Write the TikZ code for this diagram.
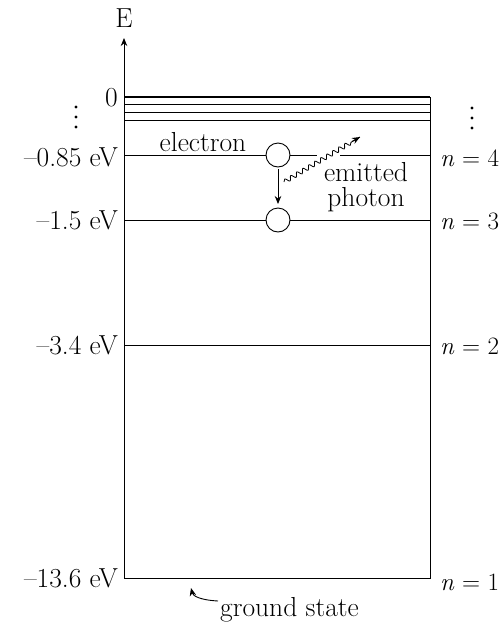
\documentclass[tikz,border=0pt]{standalone}
\usepackage{fontspec}
\setmainfont{Latin Modern Roman}
\usetikzlibrary{arrows.meta,decorations.pathmorphing}
\begin{document}
\begin{tikzpicture}[x=1pt,y=-1pt,
  lbl/.style={font=\fontsize{27.5}{30}\selectfont, inner sep=0pt},
  nlbl/.style={font=\fontsize{25}{28}\selectfont, inner sep=0pt, anchor=west},
  lvl/.style={line width=0.8pt},
  dot/.style={circle, fill=black, inner sep=0pt, minimum size=3.2pt},
  elec/.style={circle, draw, line width=0.9pt, minimum size=24pt, inner sep=0pt, fill=white},
  arr/.style={-{Stealth[length=8pt,width=6.5pt]}, line width=0.9pt}]
\useasboundingbox (0,0) rectangle (501,630);
% axis and box
\coordinate (axtop) at (124,38);
\coordinate (bl) at (124,578);
\coordinate (br) at (430,578);
\coordinate (tr) at (430,97);
\coordinate (tl) at (124,97);
\draw[arr] (bl) -- (axtop);
\draw[lvl] (tr) -- (br) -- (bl);
\node[lbl] (E) at (124,18) {E};
% top levels
\draw[line width=2.2pt] (tl) -- (tr);
\draw[lvl] (124,104) -- (430,104);
\draw[lvl] (124,112) -- (430,112);
\draw[lvl] (124,120) -- (430,120);
\node[lbl, anchor=east] (z) at (118,98) {0};
\foreach \yy in {107,117,127} {
  \node[dot] at (76,\yy) {};
  \node[dot] at (472,\yy+1) {};
}
% n=4
\node[elec] (c4) at (278,155) {};
\node[elec] (c3) at (278,220) {};
\draw[lvl] (124,155) -- (c4.west);
\draw[lvl] (c4.east) -- (317,155);
\draw[lvl] (340,155) -- (430,155);
\draw[lvl] (124,220) -- (c3.west);
\draw[lvl] (c3.east) -- (430,220);
\draw[lvl] (124,345) -- (430,345);
% left labels
\node[lbl, anchor=east] (l4) at (118,157) {--0.85 eV};
\node[lbl, anchor=east] (l3) at (118,220) {--1.5 eV};
\node[lbl, anchor=east] (l2) at (118,345) {--3.4 eV};
\node[lbl, anchor=east] (l1) at (118,578) {--13.6 eV};
% right labels
\node[nlbl] (r4) at (440,158) {\textit{n} = 4};
\node[nlbl] (r3) at (440,221) {\textit{n} = 3};
\node[nlbl] (r2) at (440,346) {\textit{n} = 2};
\node[nlbl] (r1) at (440,582) {\textit{n} = 1};
% electron
\node[lbl] (el) at (203,142) {electron};
\draw[arr] (c4.south) ++(0,2) coordinate (ds) -- (278,204) coordinate (de);
\coordinate (ps) at (284,182);
\coordinate (pe) at (360,137);
\draw[decorate, decoration={snake, amplitude=2.2pt, segment length=7pt, post length=9pt}, line width=0.8pt] (ps) -- (pe);
\draw[arr] (352,141.5) -- (pe);
\node[lbl, align=center, font=\fontsize{27.5}{25}\selectfont] (em) at (366,187) {emitted\\photon};
% ground state
\node[lbl, anchor=west] (gs) at (220,610) {ground state};
\coordinate (gs1) at (218,601);
\coordinate (gs2) at (191,588);
\draw[arr] (gs1) .. controls (200,600) and (193,596) .. (gs2);
\end{tikzpicture}
\end{document}
